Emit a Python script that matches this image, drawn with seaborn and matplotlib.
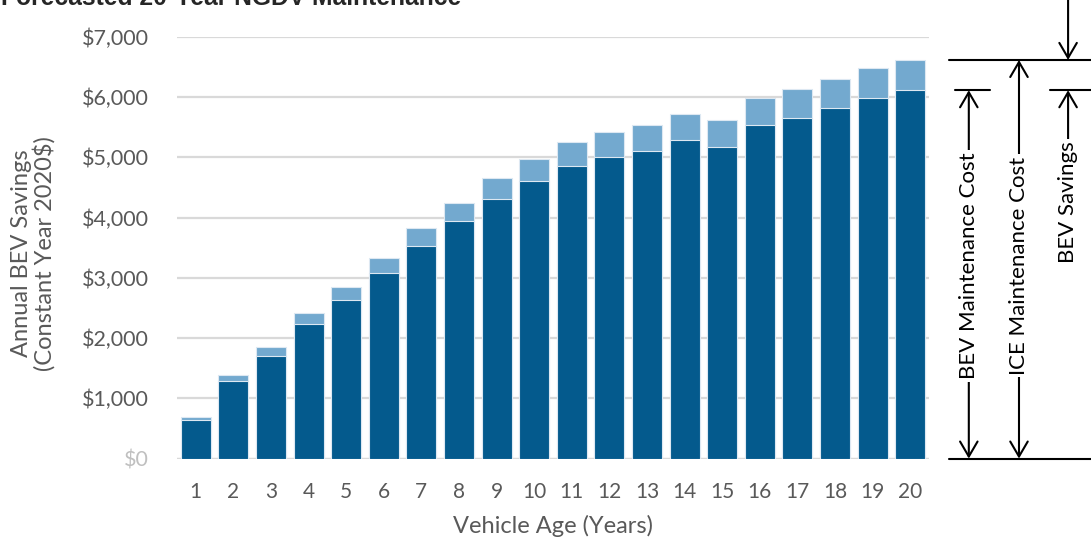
import matplotlib
matplotlib.use('Agg')
import matplotlib.pyplot as plt
import matplotlib.transforms as mtransforms
import seaborn as sns

# data (constant year 2020 $)
years = [str(i) for i in range(1, 21)]
ice_cost = [695, 1386, 1851, 2420, 2841, 3322, 3819, 4244, 4659, 4973,
            5252, 5422, 5527, 5715, 5615, 5990, 6134, 6300, 6487, 6614]
bev_cost = [635, 1292, 1707, 2237, 2630, 3073, 3531, 3935, 4305, 4599,
            4859, 5003, 5108, 5278, 5174, 5533, 5654, 5820, 5990, 6112]
y_ticks = [0, 1000, 2000, 3000, 4000, 5000, 6000, 7000]
y_labels = ['\\$' + f'{v:,}' for v in y_ticks]

sns.set_style('white')
plt.rcParams['font.family'] = ['Lato', 'DejaVu Sans']

DARK = '#045a8d'
LIGHT = '#73a9cf'
GREY = '#595959'

fig = plt.figure(figsize=(10.91, 5.42), dpi=100)
ax = fig.add_axes([0.1622, 0.1539, 0.6893, 0.7784])

sns.barplot(x=years, y=ice_cost, order=years, color=LIGHT, saturation=1,
            width=0.8, edgecolor='#dde8f2', linewidth=0.8, ax=ax)
sns.barplot(x=years, y=bev_cost, order=years, color=DARK, saturation=1,
            width=0.8, edgecolor='#dde8f2', linewidth=0.8, ax=ax)

ax.set_ylim(0, 7000)
ax.set_xlim(-0.5, len(years) - 0.5)
ax.set_yticks(y_ticks)
ax.set_yticklabels(y_labels)
ax.yaxis.grid(True, color='#d9d9d9', lw=1.6)
ax.set_axisbelow(True)
sns.despine(ax=ax, left=True, bottom=True)
ax.axhline(0, color='#d9d9d9', lw=1.6, zorder=0)
ax.tick_params(axis='y', length=0, pad=20, labelsize=15.5, colors=GREY)
ax.tick_params(axis='x', length=0, pad=17, labelsize=15, colors=GREY)
ax.get_yticklabels()[0].set_color('#c0c0c0')

ax.set_xlabel('Vehicle Age (Years)', fontsize=17, color=GREY, labelpad=9)
ax.set_ylabel('Annual BEV Savings\n(Constant Year 2020\\$)', fontsize=17,
              color=GREY, linespacing=1.0)
ax.yaxis.set_label_coords(-0.162, 0.487)

# cut-off title at the top edge
fig.text(0.001, 0.99, 'Forecasted 20-Year NGDV Maintenance', fontsize=17.7,
         fontweight='bold', va='baseline', family='Liberation Sans')

# dimension arrows on the right
trans = mtransforms.blended_transform_factory(fig.transFigure, ax.transData)
top_val = ice_cost[-1]
mid_val = bev_cost[-1]
lw = 1.5
ax.plot([0.870, 1.0], [top_val, top_val], transform=trans, clip_on=False, color='black', lw=lw)
ax.plot([0.870, 1.0], [0, 0], transform=trans, clip_on=False, color='black', lw=lw)
ax.plot([0.875, 0.907], [mid_val, mid_val], transform=trans, clip_on=False, color='black', lw=lw)
ax.plot([0.962, 1.0], [mid_val, mid_val], transform=trans, clip_on=False, color='black', lw=lw)


def dim_arrow(x, y0, y1, style):
    ax.annotate('', xy=(x, y1), xytext=(x, y0), xycoords=trans, textcoords=trans,
                annotation_clip=False,
                arrowprops=dict(arrowstyle=style, color='black', lw=lw,
                                shrinkA=0, shrinkB=0, mutation_scale=18))


def dim_text(x, y, s):
    ax.text(x, y, s, transform=trans, rotation=90, ha='center', va='center',
            fontsize=16, color='black', clip_on=False,
            bbox=dict(facecolor='white', edgecolor='none', pad=2))


x_bev, x_ice, x_sav = 0.888, 0.934, 0.979
dim_arrow(x_bev, 0, mid_val, '<->,head_length=0.6,head_width=0.35')
dim_text(x_bev, 3200, 'BEV Maintenance Cost')
dim_arrow(x_ice, 0, top_val, '<->,head_length=0.6,head_width=0.35')
dim_text(x_ice, 3200, 'ICE Maintenance Cost')
dim_arrow(x_sav, 5300, mid_val, '->,head_length=0.6,head_width=0.35')
dim_arrow(x_sav, 7650, top_val, '->,head_length=0.6,head_width=0.35')
dim_text(x_sav, 4250, 'BEV Savings')

fig.savefig('out.png', dpi=100)
